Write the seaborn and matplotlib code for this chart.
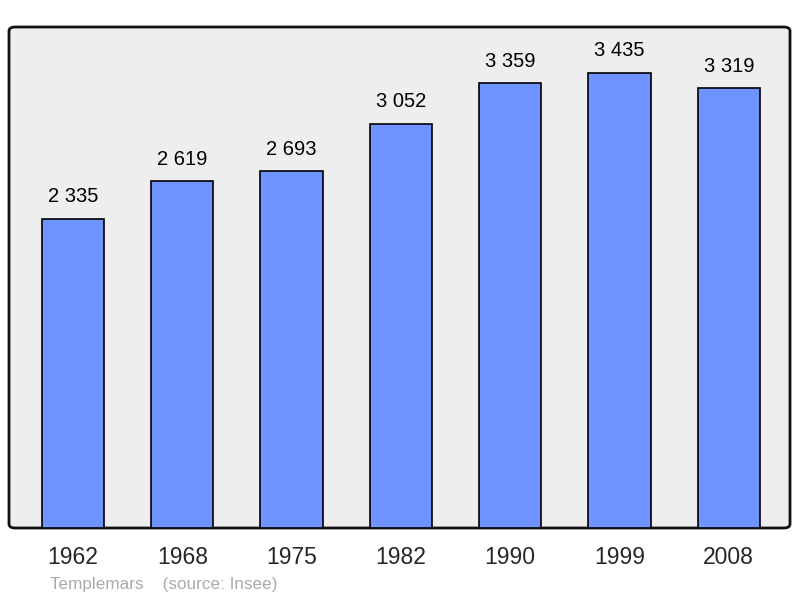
import matplotlib
matplotlib.use("Agg")
import matplotlib.pyplot as plt
import seaborn as sns
import pandas as pd
from matplotlib.patches import FancyBboxPatch

# data
years = ["1962", "1968", "1975", "1982", "1990", "1999", "2008"]
population = [2335, 2619, 2693, 3052, 3359, 3435, 3319]
value_labels = ["2 335", "2 619", "2 693", "3 052", "3 359", "3 435", "3 319"]

df = pd.DataFrame({"year": years, "pop": population})

sns.set_style("white")
plt.rcParams["font.family"] = ["Liberation Sans", "DejaVu Sans"]

fig = plt.figure(figsize=(8, 5.98), dpi=100)
ax = fig.add_axes([9 / 800, 1 - 528 / 598, 781 / 800, 501 / 598])
ax.set_facecolor("none")

# rounded frame with grey fill
frame = FancyBboxPatch((0, 0), 1, 1, boxstyle="round,pad=0,rounding_size=0.008",
                       transform=ax.transAxes, facecolor="#eeeeee",
                       edgecolor="#111111", linewidth=2, zorder=0, clip_on=False)
ax.add_patch(frame)

sns.barplot(data=df, x="year", y="pop", color="#7094ff", saturation=1,
            width=0.57, edgecolor="black", linewidth=1.2, ax=ax, zorder=2)

for i, (v, lab) in enumerate(zip(population, value_labels)):
    ax.annotate(lab, (i, v), xytext=(0, 9), textcoords="offset points",
                ha="center", va="bottom", fontsize=14.5, color="black")

ax.set_xlim(-0.585, 6.56)
ax.set_ylim(0, 3782)
for s in ax.spines.values():
    s.set_visible(False)
ax.set_yticks([])
ax.set_xlabel("")
ax.set_ylabel("")
ax.tick_params(axis="x", length=0, labelsize=16.5, pad=13)

fig.text(50 / 800, 1 - 584 / 598, "Templemars    (source: Insee)",
         fontsize=12.3, color="#aaaaaa", va="center", ha="left")

fig.savefig("out.png", dpi=100)
